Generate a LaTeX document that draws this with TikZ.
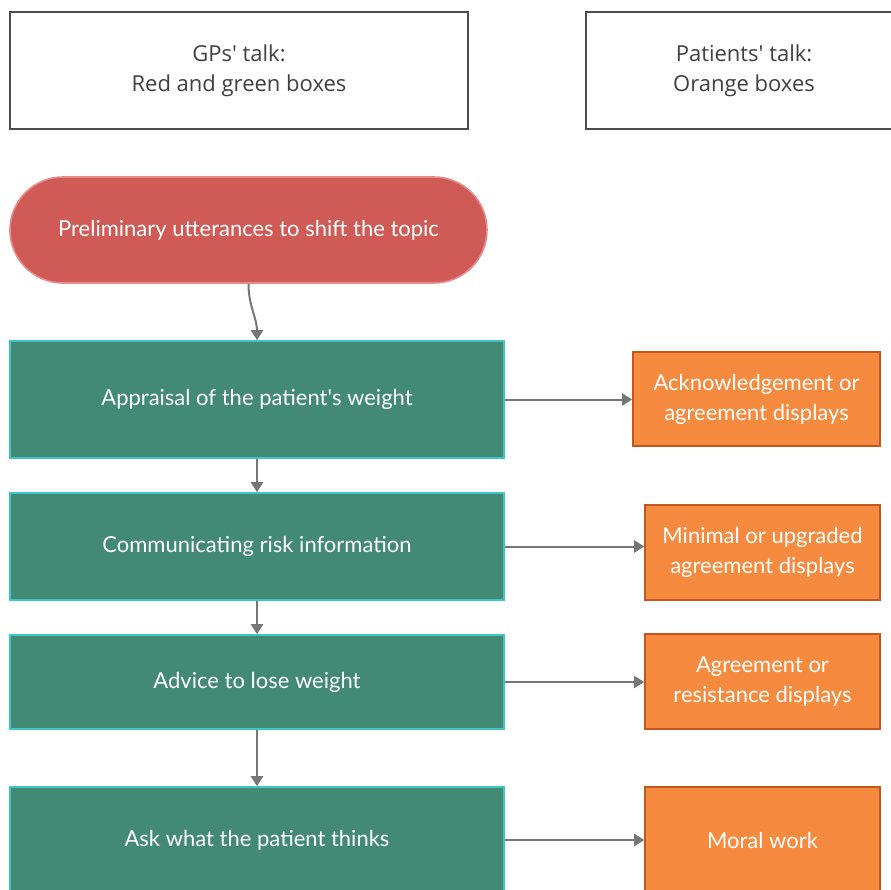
\documentclass[tikz,border=0pt]{standalone}
\usepackage{fontspec}
\setmainfont{Lato}
\newfontfamily\headfont{Open Sans}
\usepackage{tikz}
\usetikzlibrary{arrows.meta,shapes.misc}
\definecolor{gpred}{HTML}{D05B56}
\definecolor{gpredline}{HTML}{E8898A}
\definecolor{gpgreen}{HTML}{438A74}
\definecolor{gpgreenline}{HTML}{3CC6C6}
\definecolor{ptorange}{HTML}{F68A3F}
\definecolor{ptorangeline}{HTML}{C4561E}
\definecolor{linkgray}{HTML}{767676}
\newcommand{\bfs}{\fontsize{22}{30}\selectfont}
\newcommand{\lw}{1.6pt}
\newcommand{\q}{\textquotesingle}

\begin{document}
\begin{tikzpicture}[x=1pt,y=-1pt,
    every node/.style={align=center, inner sep=0pt, font=\bfs},
    keybox/.style={draw=black!70, line width=1.4pt, fill=white, text=black!75, font=\headfont\bfs},
    gpopen/.style={rounded rectangle, fill=gpred, draw=gpredline, line width=\lw, text=white},
    gpturn/.style={rectangle, fill=gpgreen, draw=gpgreenline, line width=\lw, text=white},
    ptturn/.style={rectangle, fill=ptorange, draw=ptorangeline, line width=\lw, text=white},
    link/.style={draw=linkgray, line width=2pt, -{Triangle[length=10pt,width=12pt]}}]
        \useasboundingbox (0,0) rectangle (891,890);
        \node[keybox, minimum width=458, minimum height=117] (gps) at (239,70.5) {GPs\q{} talk:\\Red and green boxes};
        \node[keybox, minimum width=316, minimum height=117] (pat) at (744,70.5) {Patients\q{} talk:\\Orange boxes};
        
        \node[gpopen, minimum width=477, minimum height=106] (shift) at (248.5,230) {Preliminary utterances to shift the topic};
        
        \node[gpturn, minimum width=494, minimum height=117] (appr) at (257,399.5) {Appraisal of the patient\q{}s weight};
        \node[gpturn, minimum width=494, minimum height=107] (risk) at (257,546.5) {Communicating risk information};
        \node[gpturn, minimum width=494, minimum height=94] (advi) at (257,682) {Advice to lose weight};
        \node[gpturn, minimum width=494, minimum height=106] (askp) at (257,840) {Ask what the patient thinks};
        
        \node[ptturn, minimum width=247, minimum height=94] (ackn) at (756.5,399) {Acknowledgement or\\agreement displays};
        \node[ptturn, minimum width=235, minimum height=95] (mini) at (762.5,552.5) {Minimal or upgraded\\agreement displays};
        \node[ptturn, minimum width=235, minimum height=95] (agre) at (762.5,681.5) {Agreement or\\resistance displays};
        \node[ptturn, minimum width=235, minimum height=106] (mora) at (762.5,840) {Moral work};
        
        \draw[link] (shift.south) to[out=-90,in=90] (appr.north);
        \draw[link] (appr.south) -- (risk.north);
        \draw[link] (risk.south) -- (advi.north);
        \draw[link] (advi.south) -- (askp.north);
        
        \draw[link] (appr.east) -- (appr.east -| ackn.west);
        \draw[link] (risk.east) -- (risk.east -| mini.west);
        \draw[link] (advi.east) -- (advi.east -| agre.west);
        \draw[link] (askp.east) -- (mora.west);
\end{tikzpicture}
\end{document}
